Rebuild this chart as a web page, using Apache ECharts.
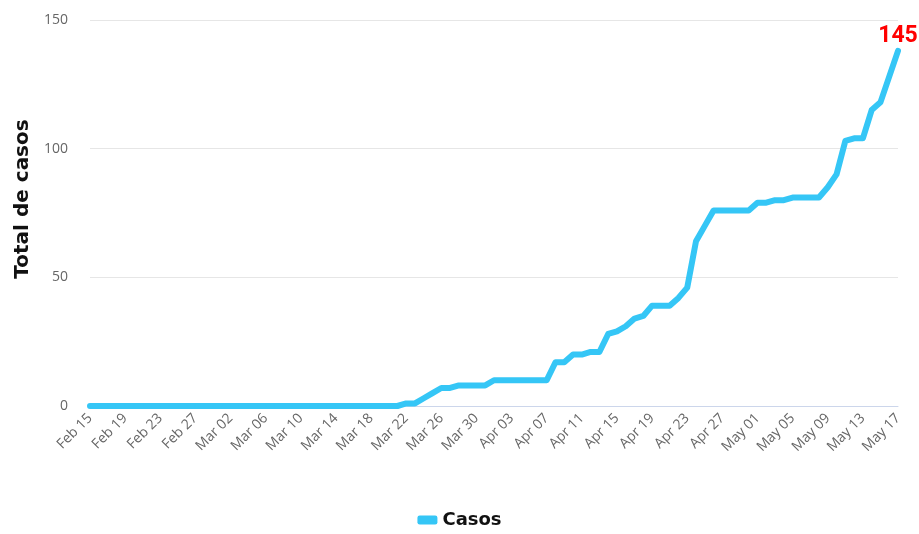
<!DOCTYPE html>
<html>
<head>
<meta charset="utf-8">
<script src="https://cdn.jsdelivr.net/npm/echarts@6/dist/echarts.min.js"></script>
<style>html,body{margin:0;padding:0;background:#fff}#c{width:919px;height:534px}</style>
</head>
<body>
<div id="c"></div>
<script>
// Categories: daily dates Feb 15 – May 17
const months = ['Feb', 'Mar', 'Apr', 'May'];
const monthDays = [29, 31, 30, 31];
const startMonth = 0, startDay = 15, endMonth = 3, endDay = 17;
const categories = [];
for (let m = startMonth; m <= endMonth; m++) {
  const first = m === startMonth ? startDay : 1;
  const last = m === endMonth ? endDay : monthDays[m];
  for (let d = first; d <= last; d++) {
    categories.push(months[m] + ' ' + String(d).padStart(2, '0'));
  }
}
// Series values (total cases)
const casos = [
  0,0,0,0,0,0,0,0,0,0,
  0,0,0,0,0,0,0,0,0,0,
  0,0,0,0,0,0,0,0,0,0,
  0,0,0,0,0,0,
  1,1,3,5,7,7,8,8,8,8,
  10,10,10,10,10,10,10,
  17,17,20,20,21,21,28,29,31,34,35,39,39,39,42,46,64,70,
  76,76,76,76,76,79,79,80,80,81,81,81,81,85,90,103,104,104,
  115,118,128,138
];
const lastLabel = '145';
const yTicks = { min: 0, max: 150, interval: 50 };
const seriesName = 'Casos';
const yName = 'Total de casos';

const seriesData = casos.map((v, i) => i === casos.length - 1
  ? { value: v, label: { show: true, position: 'top', distance: 3, formatter: () => lastLabel,
      color: '#ff0000', fontWeight: 'bold', fontSize: 23, fontFamily: 'Liberation Sans Narrow, Roboto, sans-serif' } }
  : v);

const chart = echarts.init(document.getElementById('c'));
chart.setOption({
  animation: false,
  grid: { left: 90, right: 21, top: 20, bottom: 128, containLabel: false },
  legend: {
    bottom: 0, left: 'center',
    data: [{ name: seriesName, icon: 'roundRect' }],
    itemWidth: 20, itemHeight: 9, itemGap: 10,
    textStyle: { color: '#111', fontWeight: 'bold', fontSize: 18, fontFamily: 'DejaVu Sans, sans-serif' }
  },
  xAxis: {
    type: 'category', data: categories, boundaryGap: false,
    axisLine: { lineStyle: { color: '#ccd6eb', width: 1 } },
    axisTick: { show: false },
    axisLabel: { interval: 3, rotate: 45, color: '#666', fontSize: 14, margin: 10, fontFamily: 'Open Sans, sans-serif' },
    splitLine: { show: false }
  },
  yAxis: {
    type: 'value', min: yTicks.min, max: yTicks.max, interval: yTicks.interval,
    name: yName, nameLocation: 'middle', nameGap: 53, nameRotate: 90,
    nameTextStyle: { color: '#111', fontWeight: 'bold', fontSize: 20, fontFamily: 'DejaVu Sans, sans-serif', padding: [0, 0, 0, 28] },
    axisLine: { show: false }, axisTick: { show: false },
    axisLabel: { color: '#666', fontSize: 14, margin: 22, fontFamily: 'Open Sans, sans-serif' },
    splitLine: { lineStyle: { color: '#e6e6e6', width: 1 } }
  },
  series: [{
    name: seriesName, type: 'line', data: seriesData,
    showSymbol: true, symbol: 'circle', symbolSize: 1,
    lineStyle: { color: '#35c6f6', width: 6, join: 'round', cap: 'round' },
    itemStyle: { color: '#35c6f6' }
  }]
});
</script>
</body>
</html>
